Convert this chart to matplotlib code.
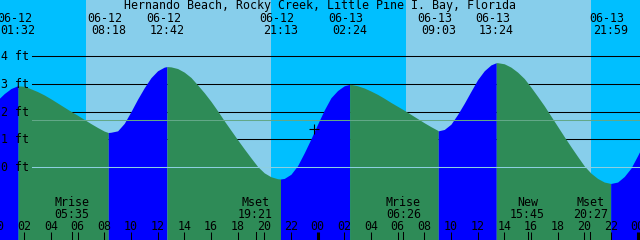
import matplotlib
matplotlib.use('Agg')
import matplotlib.pyplot as plt
import matplotlib.transforms as mtransforms
import numpy as np

plt.rcParams['font.family'] = 'DejaVu Sans Mono'
plt.rcParams['font.size'] = 8.4

title = 'Hernando Beach, Rocky Creek, Little Pine I. Bay, Florida'

# tide level (ft) every half hour, hours after 06-12 00:00
hours = np.arange(0, 49, 0.5)
levels = [2.42, 2.65, 2.83, 2.93, 2.91, 2.82, 2.72, 2.60, 2.46, 2.31,
          2.16, 2.01, 1.87, 1.72, 1.57, 1.43, 1.30, 1.26, 1.31, 1.58,
          2.00, 2.45, 2.86, 3.22, 3.47, 3.60, 3.61, 3.55, 3.42, 3.23,
          2.96, 2.68, 2.37, 2.03, 1.67, 1.33, 0.99, 0.66, 0.34, 0.03,
          -0.20, -0.34, -0.41, -0.40, -0.25, 0.06, 0.52, 1.02, 1.55, 2.06,
          2.50, 2.76, 2.93, 2.98, 2.93, 2.85, 2.74, 2.62, 2.48, 2.33,
          2.19, 2.05, 1.90, 1.75, 1.60, 1.46, 1.33, 1.36, 1.55, 1.90,
          2.30, 2.73, 3.15, 3.47, 3.68, 3.76, 3.72, 3.60, 3.42, 3.19,
          2.88, 2.55, 2.21, 1.84, 1.47, 1.10, 0.74, 0.39, 0.05, -0.21,
          -0.40, -0.53, -0.58, -0.53, -0.33, -0.03, 0.42, 0.90]

# high / low tides
event_stamps = ['06-12 01:32', '06-12 08:18', '06-12 12:42', '06-12 21:13',
                '06-13 02:24', '06-13 09:03', '06-13 13:24', '06-13 21:59']
event_levels = [2.93, 1.25, 3.62, -0.42, 2.98, 1.31, 3.76, -0.58]

# sun and moon
sunrise = ['06-12 06:38', '06-13 06:38']
sunset = ['06-12 20:30', '06-13 20:30']
moon_names = ['Mrise', 'Mset', 'Mrise', 'New', 'Mset']
moon_stamps = ['06-12 05:35', '06-12 19:21', '06-13 06:26', '06-13 15:45', '06-13 20:27']

mean_level = 1.69
depth_marks = [0, 1, 2, 3, 4]
now_stamp = '06-12 23:45'
now_level = 1.37


def to_hours(stamp):
    day, hm = stamp.split()
    hh, mm = hm.split(':')
    return (int(day[3:]) - 12) * 24 + int(hh) + int(mm) / 60


event_hours = [to_hours(s) for s in event_stamps]
moon_hours = [to_hours(s) for s in moon_stamps]

fig = plt.figure(figsize=(6.4, 2.4), dpi=100)
ax = fig.add_axes([0, 0, 1, 1])
x0, x1 = 0.18, 48.18
ybot, ytop = -2.613, 6.013
ax.set_xlim(x0, x1)
ax.set_ylim(ybot, ytop)
ax.axis('off')

xdata_yaxes = mtransforms.blended_transform_factory(ax.transData, ax.transAxes)
xaxes_ydata = mtransforms.blended_transform_factory(ax.transAxes, ax.transData)


def py(px):
    return 1 - px / 240


# night / day background
ax.axvspan(x0, x1, color='#00BFFF', zorder=0, lw=0)
for up, down in zip(sunrise, sunset):
    ax.axvspan(to_hours(up), to_hours(down), color='#87CEEB', zorder=0, lw=0)

# depth lines behind the water
for d in depth_marks[1:]:
    ax.plot([32 / 640, 1], [d, d], color='black', lw=0.75, transform=xaxes_ydata, zorder=1)

# tide curve: half-hourly readings plus the highs and lows
pts = sorted(zip(list(hours) + event_hours, levels + event_levels))
t_all = [p[0] for p in pts]
l_all = [p[1] for p in pts]

bounds = [-1e9] + event_hours + [1e9]
for i in range(len(bounds) - 1):
    a, b = bounds[i], bounds[i + 1]
    seg = [(t, l) for t, l in zip(t_all, l_all) if a <= t <= b]
    ts = [s[0] for s in seg]
    ls = [s[1] for s in seg]
    rising = (i % 2 == 0)
    ax.fill_between(ts, ybot, ls, color='#0000FF' if rising else '#2E8B57',
                    lw=0, antialiased=False, zorder=2)

# datum and mean level lines over the water
ax.plot([32 / 640, 1], [0, 0], color='#8CCFE0', lw=0.75, transform=xaxes_ydata, zorder=3)
ax.plot([32 / 640, 1], [mean_level, mean_level], color='#62A888', lw=0.75,
        transform=xaxes_ydata, zorder=3)

# depth labels
for d in depth_marks:
    ax.text(1 / 640, d - 4 / 27.8, f'{d} ft', ha='left', va='baseline',
            transform=xaxes_ydata, zorder=5)

# current time mark
ax.plot([to_hours(now_stamp)], [now_level], marker='+', color='black', ms=7, mew=0.8, zorder=5)

# title and tide events
ax.text(0.5, py(9.5), title, transform=ax.transAxes, ha='center', va='baseline', zorder=5)
for h, s in zip(event_hours, event_stamps):
    day, hm = s.split()
    ax.text(h - 0.26, py(22), day, transform=xdata_yaxes, ha='center', va='baseline', zorder=5)
    ax.text(h, py(33.5), hm, transform=xdata_yaxes, ha='center', va='baseline', zorder=5)

# moon events
for h, name, s in zip(moon_hours, moon_names, moon_stamps):
    ax.text(h, py(206), name, transform=xdata_yaxes, ha='center', va='baseline', zorder=5)
    ax.text(h, py(217.5), s.split()[1], transform=xdata_yaxes, ha='center', va='baseline', zorder=5)
    ax.plot([h, h], [0, 8 / 240], color='black', lw=0.75, transform=xdata_yaxes, zorder=5)

# hour ticks
for h in range(0, 50, 2):
    ax.text(h, py(229.5), f'{h % 24:02d}', transform=xdata_yaxes, ha='center', va='baseline', zorder=5)
    ax.plot([h, h], [0, 8 / 240], color='black', lw=2.2 if h % 24 == 0 else 0.75,
            transform=xdata_yaxes, zorder=5, solid_capstyle='butt')

fig.savefig('out.png', dpi=100)
